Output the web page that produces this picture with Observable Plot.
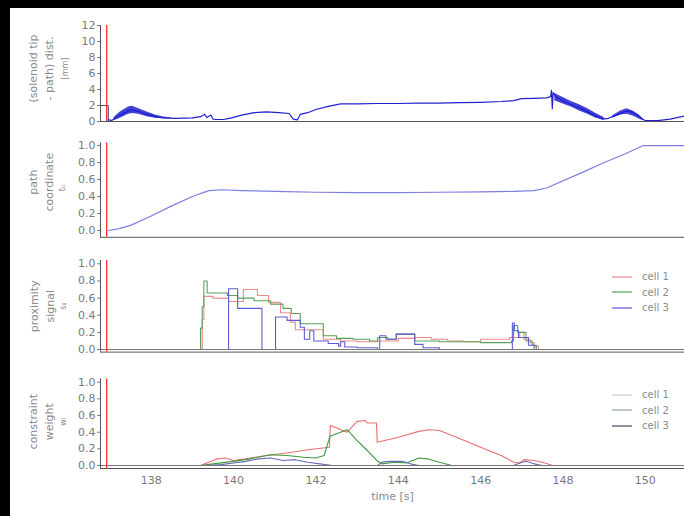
<!DOCTYPE html>
<html><head><meta charset="utf-8">
<script src="https://cdn.jsdelivr.net/npm/d3@7"></script>
<script src="https://cdn.jsdelivr.net/npm/@observablehq/plot@0.6"></script>
<style>
body{margin:0;background:#000;}
#page{position:relative;width:684px;height:516px;overflow:hidden;background:#000;font-family:"DejaVu Sans",sans-serif;}
#white{position:absolute;left:10px;top:8px;width:674px;height:508px;background:#fff;}
.pnl{position:absolute;left:10px;}
.legend{position:absolute;font-size:10px;color:#8a8a8a;font-family:"DejaVu Sans",sans-serif;}
.legend .row{height:15.5px;display:flex;align-items:center;}
.legend svg{margin-right:10px;}
</style></head><body><div id="page"><div id="white"></div></div>
<script>
// ---------- data ----------
const T0 = 136.77, T1 = 150.95;
const xTicks = [138, 140, 142, 144, 146, 148, 150];
const markerTime = 136.92;
const distTicks = [0, 2, 4, 6, 8, 10, 12];
const unitTicks = [0, 0.2, 0.4, 0.6, 0.8, 1.0];
const cells = ["cell 1", "cell 2", "cell 3"];

// panel 1: (solenoid tip - path) distance [mm]
const distStart = [[T0, 2.0], [136.96, 2.0], [136.96, 0.0]];
const dist = [[136.96,0.2],[137.05,0.15],[137.25,0.8],[137.5,1.45],[137.7,1.25],[137.9,0.9],[138.1,0.6],[138.3,0.45],[138.6,0.38],[139.0,0.45],[139.2,0.6],[139.3,0.9],[139.35,0.5],[139.45,0.8],[139.5,0.3],[139.6,0.25],[139.75,0.25],[139.9,0.4],[140.2,0.8],[140.5,1.1],[140.8,1.2],[141.1,1.1],[141.35,1.0],[141.45,0.3],[141.55,0.2],[141.62,0.9],[141.8,1.1],[142.0,1.5],[142.3,1.9],[142.6,2.2],[143.0,2.2],[143.5,2.25],[144.0,2.25],[144.5,2.3],[145.0,2.3],[145.5,2.35],[146.0,2.4],[146.5,2.5],[146.8,2.6],[147.0,2.85],[147.3,2.9],[147.6,2.95],[147.7,3.1],[147.72,3.9],[147.74,1.6],[147.76,3.6],[147.85,3.0],[148.0,2.6],[148.2,2.1],[148.4,1.7],[148.6,1.2],[148.8,0.7],[148.95,0.3],[149.1,0.4],[149.3,0.8],[149.5,1.25],[149.6,1.3],[149.75,1.0],[149.9,0.4],[150.0,0.1],[150.3,0.1],[150.6,0.3],[150.95,0.7]];
// noisy envelope [time, low, high, segment]
const distBand = [[137.1,0.1,0.5,1],[137.25,0.4,1.2,1],[137.45,0.9,1.8,1],[137.55,1.0,1.9,1],[137.7,0.9,1.6,1],[137.9,0.6,1.2,1],[138.1,0.4,0.8,1],[138.3,0.35,0.55,1],[138.5,0.35,0.45,1],
  [147.8,2.6,3.5,2],[148.0,2.2,3.0,2],[148.2,1.8,2.5,2],[148.4,1.3,2.1,2],[148.6,0.9,1.6,2],[148.8,0.4,1.0,2],[149.0,0.2,0.5,2],
  [149.2,0.4,0.7,3],[149.4,0.8,1.3,3],[149.55,0.9,1.6,3],[149.7,0.7,1.3,3],[149.85,0.3,0.8,3],[149.95,0.1,0.3,3]];

// panel 2: path coordinate
const pathCoord = [[136.96,0.0],[137.2,0.02],[137.5,0.06],[138.0,0.17],[138.5,0.29],[139.0,0.40],[139.4,0.47],[139.7,0.48],[140.2,0.47],[141.0,0.46],[142.0,0.45],[143.0,0.445],[144.0,0.445],[145.0,0.45],[146.0,0.455],[146.8,0.46],[147.3,0.47],[147.6,0.5],[148.5,0.69],[149.0,0.80],[149.5,0.9],[149.95,1.0],[150.95,1.0]];

// panel 3: proximity signal (step)
const prox1 = [[T0,0],[139.24,0.35],[139.28,0.62],[139.5,0.6],[139.88,0.56],[140.24,0.70],[140.58,0.63],[140.85,0.55],[141.14,0.43],[141.38,0.32],[141.5,0.23],[142.18,0.12],[142.6,0.1],[143.0,0.09],[143.5,0.1],[144.0,0.13],[144.4,0.14],[144.8,0.12],[145.2,0.1],[145.6,0.09],[146.0,0.12],[146.7,0.14],[146.95,0.2],[147.05,0.12],[147.2,0.08],[147.3,0.04],[147.4,0],[T1,0]];
const prox2 = [[T0,0],[139.2,0.25],[139.24,0.5],[139.28,0.8],[139.36,0.66],[139.85,0.63],[140.1,0.6],[140.5,0.57],[140.9,0.53],[141.2,0.48],[141.4,0.42],[141.62,0.3],[142.18,0.16],[142.5,0.13],[142.9,0.12],[143.3,0.1],[143.5,0.14],[143.75,0.12],[143.95,0.18],[144.4,0.1],[145.0,0.09],[146.0,0.08],[146.75,0.1],[146.8,0.28],[146.9,0.2],[147.1,0.1],[147.25,0.05],[147.35,0],[T1,0]];
const prox3 = [[T0,0],[139.88,0.71],[140.1,0.48],[140.69,0],[141.02,0.38],[141.3,0.34],[141.62,0.26],[141.72,0.12],[141.85,0.22],[141.95,0.1],[142.3,0.07],[142.55,0.04],[142.6,0.09],[142.7,0.03],[143.0,0.02],[143.5,0],[143.55,0.16],[143.7,0.12],[143.95,0.18],[144.4,0.06],[144.6,0.02],[145.0,0],[146.77,0.31],[146.82,0.22],[146.92,0.14],[147.16,0.05],[147.3,0],[T1,0]];

// panel 4: constraint weight
const w1 = [[T0,0],[139.2,0],[139.4,0.04],[139.6,0.08],[139.8,0.09],[140.0,0.06],[140.3,0.08],[140.8,0.12],[141.3,0.15],[141.8,0.19],[142.33,0.22],[142.35,0.48],[142.76,0.40],[143.0,0.53],[143.2,0.54],[143.25,0.51],[143.47,0.51],[143.49,0.28],[144.0,0.34],[144.5,0.41],[144.75,0.43],[145.0,0.42],[145.5,0.32],[146.0,0.22],[146.5,0.12],[146.8,0.04],[146.95,0.03],[147.05,0.07],[147.3,0.06],[147.5,0.04],[147.75,0],[T1,0]];
const w2 = [[T0,0],[139.2,0],[139.5,0.02],[140.0,0.05],[140.4,0.08],[140.9,0.13],[141.3,0.12],[141.7,0.1],[142.0,0.09],[142.2,0.12],[142.34,0.35],[142.76,0.43],[143.0,0.3],[143.25,0.18],[143.5,0.05],[143.6,0.02],[143.9,0.04],[144.2,0.03],[144.5,0.09],[144.7,0.08],[145.0,0.04],[145.3,0],[T1,0]];
const w3 = [[T0,0],[139.3,0],[139.7,0.01],[140.0,0.03],[140.3,0.05],[140.6,0.08],[140.9,0.09],[141.2,0.06],[141.5,0.07],[141.8,0.04],[142.1,0.02],[142.4,0],[143.5,0],[143.6,0.04],[143.8,0.05],[144.1,0.05],[144.3,0.02],[144.5,0],[146.8,0],[146.95,0.03],[147.1,0.05],[147.3,0.02],[147.5,0],[T1,0]];

// ---------- drawing ----------
const X = d => d[0], Y = d => d[1];
const fmt1 = d3.format(".1f");
const page = document.getElementById("page");

function panel(cfg) {
  const svg = Plot.plot({
    width: 674, height: cfg.height,
    marginLeft: 90, marginRight: 0, marginTop: cfg.mt, marginBottom: cfg.mb,
    style: {fontFamily: "DejaVu Sans", fontSize: "11px", background: "transparent", overflow: "visible"},
    x: {domain: [T0, T1], axis: null},
    y: {domain: cfg.yDomain, axis: null},
    marks: [
      ...cfg.marks,
      Plot.ruleX([markerTime], {stroke: "#ff3030", strokeWidth: 1.3}),
      Plot.ruleX([T0], {stroke: "#555"}),
      Plot.ruleY([cfg.yDomain[0]], {stroke: "#555"}),
      Plot.axisY({ticks: cfg.yTicks, tickFormat: cfg.yFmt, tickSize: 3, tickPadding: 2, color: "#7a7a7a", label: null}),
      Plot.text([cfg.labelMain], {frameAnchor: "left", text: d => d, rotate: -90, textAnchor: "middle", lineAnchor: "middle",
        dx: cfg.mainDx, dy: cfg.mainDy, fontSize: 11, lineHeight: 1.5, fill: "#8a8a8a"}),
      Plot.text([cfg.labelSub], {frameAnchor: "left", text: d => d, rotate: -90, textAnchor: "middle", lineAnchor: "middle",
        dx: cfg.subDx, dy: cfg.subDy, fontSize: 8, fill: "#8a8a8a"}),
      ...(cfg.extra || [])
    ]
  });
  const div = document.createElement("div");
  div.className = "pnl";
  div.style.top = cfg.top + "px";
  div.appendChild(svg);
  page.appendChild(div);
}

function legend(top, colors) {
  const div = document.createElement("div");
  div.className = "legend";
  div.style.left = "612px";
  div.style.top = top + "px";
  cells.forEach((c, i) => {
    const row = document.createElement("div");
    row.className = "row";
    row.innerHTML = `<svg width="20" height="4"><line x1="0" x2="20" y1="2" y2="2" stroke="${colors[i]}" stroke-width="1.2"/></svg><span>${c}</span>`;
    div.appendChild(row);
  });
  page.appendChild(div);
}

// panel 1
panel({
  top: 8, height: 125, mt: 17, mb: 12, yDomain: [0, 12], yTicks: distTicks, yFmt: d => d,
  labelMain: "(solenoid tip\n- path) dist.", mainDx: -61, mainDy: -5,
  labelSub: "[mm]", subDx: -35, subDy: -5,
  marks: [
    Plot.areaY(distBand, {x: X, y1: d => d[1], y2: d => d[2], z: d => d[3], fill: "#2020d0", fillOpacity: 0.85, clip: true}),
    Plot.line(distStart, {x: X, y: Y, stroke: "#44446a", strokeWidth: 1}),
    Plot.line(dist, {x: X, y: Y, stroke: "#2020d0", strokeWidth: 1.2, clip: true})
  ]
});

// panel 2
panel({
  top: 133, height: 115, mt: 9.5, mb: 11.2, yDomain: [-0.08, 1.03], yTicks: unitTicks, yFmt: fmt1,
  labelMain: "path\ncoordinate", mainDx: -61, mainDy: -8,
  labelSub: "tᵢⱼ", subDx: -38, subDy: -2,
  marks: [
    Plot.line(pathCoord, {x: X, y: Y, stroke: "#7e7ee0", strokeWidth: 1.2, clip: true})
  ]
});

// panel 3
const proxColors = ["#ee8a8a", "#5aa05a", "#5c5cd4"];
panel({
  top: 248, height: 116, mt: 11.9, mb: 12.4, yDomain: [-0.03, 1.04], yTicks: unitTicks, yFmt: fmt1,
  labelMain: "proximity\nsignal", mainDx: -60, mainDy: 0,
  labelSub: "sᵢⱼ", subDx: -37, subDy: 0,
  marks: [
    Plot.line(prox1, {x: X, y: Y, stroke: proxColors[0], curve: "step-after", strokeWidth: 1.1, clip: true}),
    Plot.line(prox2, {x: X, y: Y, stroke: proxColors[1], curve: "step-after", strokeWidth: 1.1, clip: true}),
    Plot.line(prox3, {x: X, y: Y, stroke: proxColors[2], curve: "step-after", strokeWidth: 1.1, clip: true}),
    Plot.ruleY([0], {stroke: "#777"})
  ]
});
legend(269, proxColors);

// panel 4
const wColors = ["#e87070", "#3d9a3d", "#6a6ab8"];
panel({
  top: 364, height: 152, mt: 14.4, mb: 48, yDomain: [-0.036, 1.04], yTicks: unitTicks, yFmt: fmt1,
  labelMain: "constraint\nweight", mainDx: -61, mainDy: -2,
  labelSub: "wᵢ", subDx: -37, subDy: -2,
  marks: [
    Plot.line(w1, {x: X, y: Y, stroke: wColors[0], strokeWidth: 1.1, clip: true}),
    Plot.line(w2, {x: X, y: Y, stroke: wColors[1], strokeWidth: 1.1, clip: true}),
    Plot.line(w3, {x: X, y: Y, stroke: wColors[2], strokeWidth: 1.1, clip: true}),
    Plot.ruleY([0], {stroke: "#777"})
  ],
  extra: [
    Plot.axisX({ticks: xTicks, tickFormat: d => d, tickSize: 0, tickPadding: 8, color: "#7a7a7a", label: null}),
    Plot.text(["time [s]"], {frameAnchor: "bottom", text: d => d, dy: 28, lineAnchor: "middle", fontSize: 11, fill: "#8a8a8a"})
  ]
});
legend(387, ["#c8d4c8", "#8aa88a", "#4a4a6a"]);
</script></body></html>
